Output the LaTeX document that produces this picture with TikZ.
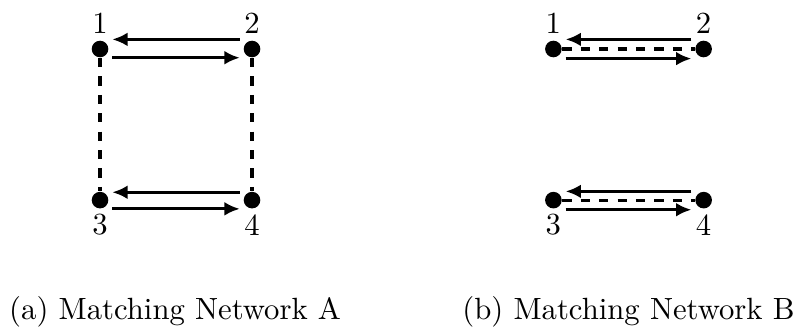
\documentclass[tikz,border=0pt]{standalone}
\usepackage{tikz}
\usetikzlibrary{arrows.meta, positioning, calc}
\tikzset{
    % Vertex style
    vertex/.style={
        circle,
        fill=black,
        inner sep=0pt,
        minimum size=0.19cm
    },
    % Vertex label style
    every label/.style={
        inner sep=0pt,
        font=\normalsize
    },
    % Matching arrow style
    arrow/.style={
        -{Latex[length=5pt, width=4.5pt]},
        line width=1pt,
        color=black
    },
    % Link style
    link/.style={
        dashed,
        line width=1pt,
        color=black
    },
    % Caption style
    caption/.style={
        anchor=base,
        font=\normalsize
    }
}
\begin{document}
\begin{tikzpicture}
    \useasboundingbox (-1.145,0.561) rectangle (7.99,-3.206);

    % Network A
    \node (a1) [vertex, label={[label distance=2pt]above:1}] at (0,0) {};
    \node (a2) [vertex, label={[label distance=2pt]above:2}] at (1.74,0) {};
    \node (a3) [vertex, label={[label distance=1.5pt]below:3}] at (0,-1.73) {};
    \node (a4) [vertex, label={[label distance=1.5pt]below:4}] at (1.74,-1.73) {};

    \draw [link] (a1) -- (a3);
    \draw [link] (a2) -- (a4);
    \draw [arrow] ($(a2)+(-0.14,0.11)$) -- ($(a1)+(0.14,0.11)$);
    \draw [arrow] ($(a1)+(0.14,-0.1)$) -- ($(a2)+(-0.14,-0.1)$);
    \draw [arrow] ($(a4)+(-0.14,0.09)$) -- ($(a3)+(0.14,0.09)$);
    \draw [arrow] ($(a3)+(0.14,-0.1)$) -- ($(a4)+(-0.14,-0.1)$);

    % Network B
    \node (b1) [vertex, label={[label distance=2pt]above:1}] at (5.19,0) {};
    \node (b2) [vertex, label={[label distance=2pt]above:2}] at (6.91,0) {};
    \node (b3) [vertex, label={[label distance=1.5pt]below:3}] at (5.19,-1.73) {};
    \node (b4) [vertex, label={[label distance=1.5pt]below:4}] at (6.91,-1.73) {};

    \draw [link] (b1) -- (b2);
    \draw [link] (b3) -- (b4);
    \draw [arrow] ($(b2)+(-0.14,0.11)$) -- ($(b1)+(0.14,0.11)$);
    \draw [arrow] ($(b1)+(0.14,-0.11)$) -- ($(b2)+(-0.14,-0.11)$);
    \draw [arrow] ($(b4)+(-0.14,0.1)$) -- ($(b3)+(0.14,0.1)$);
    \draw [arrow] ($(b3)+(0.14,-0.11)$) -- ($(b4)+(-0.14,-0.11)$);

    % Captions
    \node (capa) [caption] at (0.86,-3.10) {(a) Matching Network A};
    \node (capb) [caption] at (6.05,-3.10) {(b) Matching Network B};
\end{tikzpicture}
\end{document}
